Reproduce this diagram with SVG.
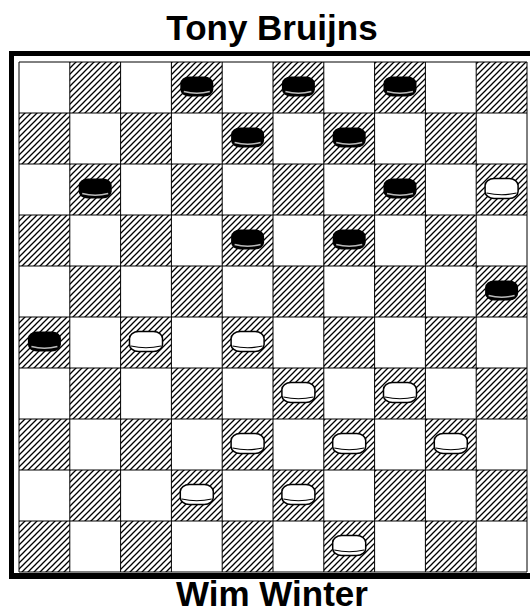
<svg xmlns="http://www.w3.org/2000/svg" xmlns:xlink="http://www.w3.org/1999/xlink" width="530" height="616" viewBox="0 0 530 616">
<style>
.title{font-family:"Liberation Sans",Arial,sans-serif;font-weight:bold;font-size:35px;fill:#000;text-anchor:middle}
.dk{fill:url(#hatch)}
.grid{stroke:#000;stroke-width:1;fill:none}
</style>
<defs>
<pattern id="hatch" patternUnits="userSpaceOnUse" width="6" height="6">
<rect width="6" height="6" fill="#fff"/>
<path d="M-1,1 L1,-1 M0,6 L6,0 M5,7 L7,5" stroke="#000" stroke-width="1.3"/>
</pattern>
<g id="bk">
<rect x="-16.5" y="-10" width="33" height="20" rx="9" ry="7" fill="#000"/>
<path d="M-13,5 Q0,8.5 13,5" stroke="#bbb" stroke-width="1.5" fill="none"/>
</g>
<g id="wh">
<rect x="-16.5" y="-10" width="33" height="20" rx="9" ry="7" fill="#fff" stroke="#000" stroke-width="1.5"/>
<path d="M-15,4.5 Q0,8 15,4.5" stroke="#000" stroke-width="1.2" fill="none"/>
</g>
</defs>
<rect width="530" height="616" fill="#fff"/>
<text class="title" x="272" y="40">Tony Bruijns</text>
<text class="title" x="272" y="606">Wim Winter</text>
<g id="frame">
<rect x="9" y="51" width="531" height="528" fill="#000"/>
<rect x="14" y="56" width="526" height="517" fill="#fff"/>
</g>
<g id="board">
<g id="dark-squares">
<rect class="dk" x="69.8" y="62" width="50.8" height="51"/>
<rect class="dk" x="171.4" y="62" width="50.8" height="51"/>
<rect class="dk" x="273" y="62" width="50.8" height="51"/>
<rect class="dk" x="374.6" y="62" width="50.8" height="51"/>
<rect class="dk" x="476.2" y="62" width="50.8" height="51"/>
<rect class="dk" x="19" y="113" width="50.8" height="51"/>
<rect class="dk" x="120.6" y="113" width="50.8" height="51"/>
<rect class="dk" x="222.2" y="113" width="50.8" height="51"/>
<rect class="dk" x="323.8" y="113" width="50.8" height="51"/>
<rect class="dk" x="425.4" y="113" width="50.8" height="51"/>
<rect class="dk" x="69.8" y="164" width="50.8" height="51"/>
<rect class="dk" x="171.4" y="164" width="50.8" height="51"/>
<rect class="dk" x="273" y="164" width="50.8" height="51"/>
<rect class="dk" x="374.6" y="164" width="50.8" height="51"/>
<rect class="dk" x="476.2" y="164" width="50.8" height="51"/>
<rect class="dk" x="19" y="215" width="50.8" height="51"/>
<rect class="dk" x="120.6" y="215" width="50.8" height="51"/>
<rect class="dk" x="222.2" y="215" width="50.8" height="51"/>
<rect class="dk" x="323.8" y="215" width="50.8" height="51"/>
<rect class="dk" x="425.4" y="215" width="50.8" height="51"/>
<rect class="dk" x="69.8" y="266" width="50.8" height="51"/>
<rect class="dk" x="171.4" y="266" width="50.8" height="51"/>
<rect class="dk" x="273" y="266" width="50.8" height="51"/>
<rect class="dk" x="374.6" y="266" width="50.8" height="51"/>
<rect class="dk" x="476.2" y="266" width="50.8" height="51"/>
<rect class="dk" x="19" y="317" width="50.8" height="51"/>
<rect class="dk" x="120.6" y="317" width="50.8" height="51"/>
<rect class="dk" x="222.2" y="317" width="50.8" height="51"/>
<rect class="dk" x="323.8" y="317" width="50.8" height="51"/>
<rect class="dk" x="425.4" y="317" width="50.8" height="51"/>
<rect class="dk" x="69.8" y="368" width="50.8" height="51"/>
<rect class="dk" x="171.4" y="368" width="50.8" height="51"/>
<rect class="dk" x="273" y="368" width="50.8" height="51"/>
<rect class="dk" x="374.6" y="368" width="50.8" height="51"/>
<rect class="dk" x="476.2" y="368" width="50.8" height="51"/>
<rect class="dk" x="19" y="419" width="50.8" height="51"/>
<rect class="dk" x="120.6" y="419" width="50.8" height="51"/>
<rect class="dk" x="222.2" y="419" width="50.8" height="51"/>
<rect class="dk" x="323.8" y="419" width="50.8" height="51"/>
<rect class="dk" x="425.4" y="419" width="50.8" height="51"/>
<rect class="dk" x="69.8" y="470" width="50.8" height="51"/>
<rect class="dk" x="171.4" y="470" width="50.8" height="51"/>
<rect class="dk" x="273" y="470" width="50.8" height="51"/>
<rect class="dk" x="374.6" y="470" width="50.8" height="51"/>
<rect class="dk" x="476.2" y="470" width="50.8" height="51"/>
<rect class="dk" x="19" y="521" width="50.8" height="51"/>
<rect class="dk" x="120.6" y="521" width="50.8" height="51"/>
<rect class="dk" x="222.2" y="521" width="50.8" height="51"/>
<rect class="dk" x="323.8" y="521" width="50.8" height="51"/>
<rect class="dk" x="425.4" y="521" width="50.8" height="51"/>
</g>
<path class="grid" d="M19,62V572 M69.8,62V572 M120.6,62V572 M171.4,62V572 M222.2,62V572 M273,62V572 M323.8,62V572 M374.6,62V572 M425.4,62V572 M476.2,62V572 M527,62V572 M19,62H527 M19,113H527 M19,164H527 M19,215H527 M19,266H527 M19,317H527 M19,368H527 M19,419H527 M19,470H527 M19,521H527 M19,572H527"/>
</g>
<g id="black-pieces">
<use xlink:href="#bk" x="196.8" y="86.5"/>
<use xlink:href="#bk" x="298.4" y="86.5"/>
<use xlink:href="#bk" x="400" y="86.5"/>
<use xlink:href="#bk" x="247.6" y="137.5"/>
<use xlink:href="#bk" x="349.2" y="137.5"/>
<use xlink:href="#bk" x="95.2" y="188.5"/>
<use xlink:href="#bk" x="400" y="188.5"/>
<use xlink:href="#bk" x="247.6" y="239.5"/>
<use xlink:href="#bk" x="349.2" y="239.5"/>
<use xlink:href="#bk" x="501.6" y="290.5"/>
<use xlink:href="#bk" x="44.4" y="341.5"/>
</g>
<g id="white-pieces">
<use xlink:href="#wh" x="501.6" y="188.5"/>
<use xlink:href="#wh" x="146" y="341.5"/>
<use xlink:href="#wh" x="247.6" y="341.5"/>
<use xlink:href="#wh" x="298.4" y="392.5"/>
<use xlink:href="#wh" x="400" y="392.5"/>
<use xlink:href="#wh" x="247.6" y="443.5"/>
<use xlink:href="#wh" x="349.2" y="443.5"/>
<use xlink:href="#wh" x="450.8" y="443.5"/>
<use xlink:href="#wh" x="196.8" y="494.5"/>
<use xlink:href="#wh" x="298.4" y="494.5"/>
<use xlink:href="#wh" x="349.2" y="545.5"/>
</g>
</svg>
